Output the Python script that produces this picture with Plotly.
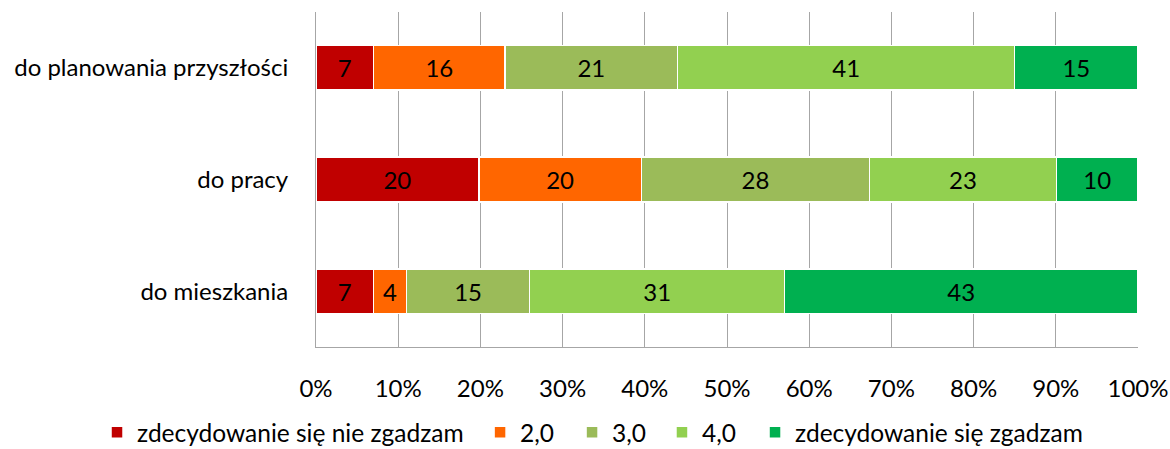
import plotly.graph_objects as go

# Categories (top to bottom) and answer scale
categories = ["do planowania przyszłości", "do pracy", "do mieszkania"]
series_names = ["zdecydowanie się nie zgadzam", "2,0", "3,0", "4,0", "zdecydowanie się zgadzam"]

s1 = [7, 20, 7]
s2 = [16, 20, 4]
s3 = [21, 28, 15]
s4 = [41, 23, 31]
s5 = [15, 10, 43]

colors = ["#C00000", "#FF6600", "#9BBB59", "#92D050", "#00B050"]
x_ticks = [0, 10, 20, 30, 40, 50, 60, 70, 80, 90, 100]

# horizontal anchor of each legend entry (paper fraction)
legend_x = [-0.2664, 0.1996, 0.3115, 0.4209, 0.5341]

FONT = "Lato"
FS = 24
LEG_FS = 24.5

fig = go.Figure()
for i, (name, vals, col) in enumerate(zip(series_names, [s1, s2, s3, s4, s5], colors)):
    fig.add_trace(go.Bar(
        y=categories,
        x=vals,
        name=name,
        orientation="h",
        marker=dict(color=col, line=dict(color="white", width=1.5)),
        text=vals,
        texttemplate="%{text}",
        textposition="inside",
        insidetextanchor="middle",
        textangle=0,
        constraintext="none",
        textfont=dict(family=FONT, size=FS, color="black"),
        width=0.4,
        legend="legend" if i == 0 else f"legend{i + 1}",
    ))

legend_common = dict(
    orientation="h",
    xanchor="left",
    y=-0.255, yanchor="middle",
    font=dict(family=FONT, size=LEG_FS, color="black"),
    itemwidth=30,
    bgcolor="rgba(0,0,0,0)",
)
legends = {}
for i, lx in enumerate(legend_x):
    key = "legend" if i == 0 else f"legend{i + 1}"
    legends[key] = dict(legend_common, x=lx)

fig.update_layout(
    barmode="stack",
    barnorm="percent",
    width=1170,
    height=449,
    margin=dict(l=316, r=32, t=12, b=102, autoexpand=False),
    paper_bgcolor="white",
    plot_bgcolor="white",
    font=dict(family=FONT, size=FS, color="black"),
    showlegend=True,
    xaxis=dict(
        range=[0, 100],
        tickvals=x_ticks,
        ticktext=[f"{t}%" for t in x_ticks],
        showgrid=True,
        gridcolor="#A6A6A6",
        gridwidth=1,
        zeroline=False,
        showline=True,
        linecolor="#A6A6A6",
        linewidth=1,
        ticks="",
        automargin=False,
        ticklabelstandoff=20,
        tickfont=dict(family=FONT, size=FS),
    ),
    yaxis=dict(
        categoryorder="array",
        categoryarray=categories,
        autorange="reversed",
        showgrid=False,
        showline=True,
        linecolor="#A6A6A6",
        linewidth=1,
        ticks="",
        automargin=False,
        ticklabelstandoff=22,
        tickfont=dict(family=FONT, size=FS),
    ),
    **legends,
)

fig.write_html("out.html")
